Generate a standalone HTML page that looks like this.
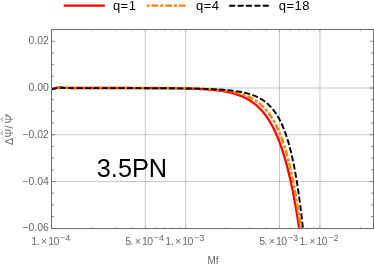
<!DOCTYPE html>
<html><head><meta charset="utf-8"><style>
html,body{margin:0;padding:0;background:#fff;}
body{width:374px;height:265px;overflow:hidden;}
svg{display:block;will-change:transform;}
text{font-family:"Liberation Sans",sans-serif;}
.t{font-size:10.5px;fill:#666;}
.s{font-size:9.1px;fill:#666;}
.l{font-size:13px;fill:#000;letter-spacing:0.5px;}
</style></head><body>
<svg width="374" height="265" viewBox="0 0 374 265">
<rect width="374" height="265" fill="#fff"/>
<g stroke="#000" stroke-opacity="0.22" stroke-width="1" fill="none"><line x1="145.29" y1="29.5" x2="145.29" y2="228.5"/><line x1="185.70" y1="29.5" x2="185.70" y2="228.5"/><line x1="279.54" y1="29.5" x2="279.54" y2="228.5"/><line x1="319.95" y1="29.5" x2="319.95" y2="228.5"/><line x1="51.5" y1="88.00" x2="373.5" y2="88.00"/><line x1="51.5" y1="134.74" x2="373.5" y2="134.74"/><line x1="51.5" y1="181.48" x2="373.5" y2="181.48"/></g>
<clipPath id="c"><rect x="51.5" y="29.5" width="322.0" height="199.0"/></clipPath>
<g clip-path="url(#c)" fill="none" stroke-linejoin="round">
<path d="M51.50 88.90 L52.00 88.89 L52.50 88.85 L53.00 88.81 L53.50 88.75 L54.00 88.66 L54.50 88.51 L55.00 88.35 L55.50 88.20 L56.00 88.06 L56.50 87.91 L57.00 87.78 L57.50 87.70 L58.00 87.65 L58.50 87.61 L59.00 87.58 L59.50 87.56 L60.00 87.55 L60.50 87.56 L61.00 87.58 L61.50 87.61 L62.00 87.64 L62.50 87.67 L63.00 87.70 L63.50 87.73 L64.00 87.75 L64.50 87.78 L65.00 87.81 L65.50 87.84 L66.00 87.86 L66.50 87.88 L67.00 87.90 L67.50 87.92 L68.00 87.93 L68.50 87.94 L69.00 87.96 L69.50 87.97 L70.00 87.98 L70.50 87.99 L71.00 88.00 L71.50 88.00 L72.00 88.00 L72.50 88.00 L73.00 88.00 L73.50 88.00 L74.00 88.00 L74.50 88.00 L75.00 88.00 L75.50 88.00 L76.00 88.00 L76.50 88.00 L77.00 88.00 L77.50 88.00 L78.00 88.00 L78.50 88.00 L79.00 88.00 L79.50 88.00 L80.00 88.00 L80.50 88.00 L81.00 88.00 L81.50 88.00 L82.00 88.00 L82.50 88.00 L83.00 88.00 L83.50 88.00 L84.00 88.00 L84.50 88.00 L85.00 88.00 L85.50 88.00 L86.00 88.00 L86.50 88.00 L87.00 88.00 L87.50 88.00 L88.00 88.00 L88.50 88.00 L89.00 88.00 L89.50 88.00 L90.00 88.00 L90.50 88.00 L91.00 88.00 L91.50 88.00 L92.00 88.00 L92.50 88.00 L93.00 88.00 L93.50 88.00 L94.00 88.00 L94.50 88.00 L95.00 88.00 L95.50 88.00 L96.00 88.00 L96.50 88.00 L97.00 88.00 L97.50 88.00 L98.00 88.00 L98.50 88.00 L99.00 88.00 L99.50 88.00 L100.00 88.00 L100.50 88.00 L101.00 88.00 L101.50 88.00 L102.00 88.00 L102.50 88.01 L103.00 88.01 L103.50 88.01 L104.00 88.01 L104.50 88.01 L105.00 88.01 L105.50 88.01 L106.00 88.01 L106.50 88.01 L107.00 88.01 L107.50 88.01 L108.00 88.01 L108.50 88.01 L109.00 88.01 L109.50 88.01 L110.00 88.01 L110.50 88.01 L111.00 88.01 L111.50 88.01 L112.00 88.01 L112.50 88.01 L113.00 88.01 L113.50 88.01 L114.00 88.01 L114.50 88.01 L115.00 88.01 L115.50 88.01 L116.00 88.01 L116.50 88.01 L117.00 88.01 L117.50 88.01 L118.00 88.01 L118.50 88.01 L119.00 88.01 L119.50 88.01 L120.00 88.01 L120.50 88.01 L121.00 88.01 L121.50 88.01 L122.00 88.02 L122.50 88.02 L123.00 88.02 L123.50 88.02 L124.00 88.02 L124.50 88.02 L125.00 88.02 L125.50 88.02 L126.00 88.02 L126.50 88.02 L127.00 88.02 L127.50 88.02 L128.00 88.02 L128.50 88.02 L129.00 88.02 L129.50 88.02 L130.00 88.02 L130.50 88.02 L131.00 88.02 L131.50 88.03 L132.00 88.03 L132.50 88.03 L133.00 88.03 L133.50 88.03 L134.00 88.03 L134.50 88.03 L135.00 88.03 L135.50 88.03 L136.00 88.03 L136.50 88.03 L137.00 88.03 L137.50 88.04 L138.00 88.04 L138.50 88.04 L139.00 88.04 L139.50 88.04 L140.00 88.04 L140.50 88.04 L141.00 88.04 L141.50 88.04 L142.00 88.05 L142.50 88.05 L143.00 88.05 L143.50 88.05 L144.00 88.05 L144.50 88.05 L145.00 88.05 L145.50 88.05 L146.00 88.06 L146.50 88.06 L147.00 88.06 L147.50 88.06 L148.00 88.06 L148.50 88.06 L149.00 88.07 L149.50 88.07 L150.00 88.07 L150.50 88.07 L151.00 88.07 L151.50 88.08 L152.00 88.08 L152.50 88.08 L153.00 88.08 L153.50 88.08 L154.00 88.09 L154.50 88.09 L155.00 88.09 L155.50 88.09 L156.00 88.10 L156.50 88.10 L157.00 88.10 L157.50 88.10 L158.00 88.11 L158.50 88.11 L159.00 88.11 L159.50 88.12 L160.00 88.12 L160.50 88.12 L161.00 88.13 L161.50 88.13 L162.00 88.13 L162.50 88.14 L163.00 88.14 L163.50 88.14 L164.00 88.15 L164.50 88.15 L165.00 88.16 L165.50 88.16 L166.00 88.16 L166.50 88.17 L167.00 88.17 L167.50 88.18 L168.00 88.18 L168.50 88.19 L169.00 88.19 L169.50 88.20 L170.00 88.20 L170.50 88.21 L171.00 88.21 L171.50 88.22 L172.00 88.23 L172.50 88.23 L173.00 88.24 L173.50 88.24 L174.00 88.25 L174.50 88.26 L175.00 88.26 L175.50 88.27 L176.00 88.28 L176.50 88.29 L177.00 88.29 L177.50 88.30 L178.00 88.31 L178.50 88.32 L179.00 88.33 L179.50 88.33 L180.00 88.34 L180.50 88.35 L181.00 88.36 L181.50 88.37 L182.00 88.38 L182.50 88.39 L183.00 88.40 L183.50 88.41 L184.00 88.42 L184.50 88.44 L185.00 88.45 L185.50 88.46 L186.00 88.47 L186.50 88.48 L187.00 88.50 L187.50 88.51 L188.00 88.52 L188.50 88.54 L189.00 88.55 L189.50 88.57 L190.00 88.58 L190.50 88.60 L191.00 88.61 L191.50 88.63 L192.00 88.65 L192.50 88.66 L193.00 88.68 L193.50 88.70 L194.00 88.72 L194.50 88.74 L195.00 88.75 L195.50 88.77 L196.00 88.80 L196.50 88.82 L197.00 88.84 L197.50 88.86 L198.00 88.88 L198.50 88.91 L199.00 88.93 L199.50 88.95 L200.00 88.98 L200.50 89.01 L201.00 89.03 L201.50 89.06 L202.00 89.09 L202.50 89.12 L203.00 89.14 L203.50 89.17 L204.00 89.21 L204.50 89.24 L205.00 89.27 L205.50 89.30 L206.00 89.34 L206.50 89.37 L207.00 89.41 L207.50 89.45 L208.00 89.48 L208.50 89.52 L209.00 89.56 L209.50 89.60 L210.00 89.64 L210.50 89.69 L211.00 89.73 L211.50 89.78 L212.00 89.82 L212.50 89.87 L213.00 89.92 L213.50 89.97 L214.00 90.02 L214.50 90.07 L215.00 90.13 L215.50 90.18 L216.00 90.24 L216.50 90.30 L217.00 90.36 L217.50 90.42 L218.00 90.48 L218.50 90.55 L219.00 90.61 L219.50 90.68 L220.00 90.75 L220.50 90.82 L221.00 90.89 L221.50 90.97 L222.00 91.05 L222.50 91.12 L223.00 91.21 L223.50 91.29 L224.00 91.37 L224.50 91.46 L225.00 91.55 L225.50 91.64 L226.00 91.74 L226.50 91.83 L227.00 91.93 L227.50 92.03 L228.00 92.14 L228.50 92.24 L229.00 92.35 L229.50 92.46 L230.00 92.58 L230.50 92.70 L231.00 92.82 L231.50 92.94 L232.00 93.07 L232.50 93.20 L233.00 93.33 L233.50 93.47 L234.00 93.61 L234.50 93.75 L235.00 93.90 L235.50 94.05 L236.00 94.21 L236.50 94.37 L237.00 94.53 L237.50 94.70 L238.00 94.87 L238.50 95.04 L239.00 95.23 L239.50 95.41 L240.00 95.60 L240.20 95.68 L240.40 95.75 L240.60 95.83 L240.80 95.91 L241.00 95.99 L241.20 96.07 L241.40 96.15 L241.60 96.24 L241.80 96.32 L242.00 96.41 L242.20 96.49 L242.40 96.58 L242.60 96.66 L242.80 96.75 L243.00 96.84 L243.20 96.93 L243.40 97.02 L243.60 97.11 L243.80 97.20 L244.00 97.30 L244.20 97.39 L244.40 97.48 L244.60 97.58 L244.80 97.68 L245.00 97.77 L245.20 97.87 L245.40 97.97 L245.60 98.07 L245.80 98.18 L246.00 98.28 L246.20 98.38 L246.40 98.49 L246.60 98.59 L246.80 98.70 L247.00 98.81 L247.20 98.92 L247.40 99.03 L247.60 99.14 L247.80 99.25 L248.00 99.36 L248.20 99.48 L248.40 99.59 L248.60 99.71 L248.80 99.83 L249.00 99.95 L249.20 100.07 L249.40 100.19 L249.60 100.31 L249.80 100.44 L250.00 100.56 L250.20 100.69 L250.40 100.81 L250.60 100.94 L250.80 101.07 L251.00 101.20 L251.20 101.34 L251.40 101.47 L251.60 101.61 L251.80 101.74 L252.00 101.88 L252.20 102.02 L252.40 102.16 L252.60 102.30 L252.80 102.45 L253.00 102.59 L253.20 102.74 L253.40 102.89 L253.60 103.04 L253.80 103.19 L254.00 103.34 L254.20 103.49 L254.40 103.65 L254.60 103.81 L254.80 103.96 L255.00 104.12 L255.20 104.29 L255.40 104.45 L255.60 104.61 L255.80 104.78 L256.00 104.95 L256.20 105.12 L256.40 105.29 L256.60 105.46 L256.80 105.64 L257.00 105.81 L257.20 105.99 L257.40 106.17 L257.60 106.35 L257.80 106.54 L258.00 106.72 L258.20 106.91 L258.40 107.10 L258.60 107.29 L258.80 107.48 L259.00 107.68 L259.20 107.88 L259.40 108.07 L259.60 108.27 L259.80 108.48 L260.00 108.68 L260.20 108.89 L260.40 109.10 L260.60 109.31 L260.80 109.52 L261.00 109.73 L261.20 109.95 L261.40 110.17 L261.60 110.39 L261.80 110.61 L262.00 110.84 L262.20 111.07 L262.40 111.30 L262.60 111.53 L262.80 111.76 L263.00 112.00 L263.20 112.24 L263.40 112.48 L263.60 112.72 L263.80 112.97 L264.00 113.22 L264.20 113.47 L264.40 113.72 L264.60 113.98 L264.80 114.24 L265.00 114.50 L265.20 114.76 L265.40 115.03 L265.60 115.30 L265.80 115.57 L266.00 115.84 L266.20 116.12 L266.40 116.40 L266.60 116.68 L266.80 116.97 L267.00 117.25 L267.20 117.54 L267.40 117.84 L267.60 118.13 L267.80 118.43 L268.00 118.73 L268.20 119.04 L268.40 119.35 L268.60 119.66 L268.80 119.97 L269.00 120.29 L269.20 120.61 L269.40 120.93 L269.60 121.26 L269.80 121.59 L270.00 121.92 L270.20 122.26 L270.40 122.60 L270.60 122.94 L270.80 123.29 L271.00 123.63 L271.20 123.99 L271.40 124.34 L271.60 124.70 L271.80 125.07 L272.00 125.43 L272.20 125.80 L272.40 126.18 L272.60 126.55 L272.80 126.94 L273.00 127.32 L273.20 127.71 L273.40 128.10 L273.60 128.50 L273.80 128.90 L274.00 129.30 L274.20 129.71 L274.40 130.12 L274.60 130.54 L274.80 130.96 L275.00 131.38 L275.20 131.81 L275.40 132.24 L275.60 132.68 L275.80 133.12 L276.00 133.56 L276.20 134.01 L276.40 134.47 L276.60 134.92 L276.80 135.39 L277.00 135.85 L277.20 136.32 L277.40 136.80 L277.60 137.28 L277.80 137.77 L278.00 138.26 L278.20 138.75 L278.40 139.25 L278.60 139.76 L278.80 140.26 L279.00 140.78 L279.20 141.30 L279.40 141.82 L279.60 142.35 L279.80 142.89 L280.00 143.42 L280.20 143.97 L280.40 144.52 L280.60 145.08 L280.80 145.64 L281.00 146.20 L281.20 146.77 L281.40 147.35 L281.60 147.93 L281.80 148.52 L282.00 149.12 L282.20 149.72 L282.40 150.32 L282.60 150.93 L282.80 151.55 L283.00 152.17 L283.20 152.80 L283.40 153.44 L283.60 154.08 L283.80 154.73 L284.00 155.38 L284.20 156.04 L284.40 156.71 L284.60 157.38 L284.80 158.06 L285.00 158.74 L285.20 159.44 L285.40 160.14 L285.60 160.84 L285.80 161.55 L286.00 162.27 L286.20 163.00 L286.40 163.73 L286.60 164.47 L286.80 165.22 L287.00 165.98 L287.20 166.74 L287.40 167.51 L287.60 168.29 L287.80 169.07 L288.00 169.86 L288.20 170.66 L288.40 171.47 L288.60 172.28 L288.80 173.11 L289.00 173.94 L289.20 174.78 L289.40 175.62 L289.60 176.48 L289.80 177.34 L290.00 178.21 L290.20 179.09 L290.40 179.98 L290.60 180.88 L290.80 181.78 L291.00 182.69 L291.20 183.62 L291.40 184.55 L291.60 185.49 L291.80 186.44 L292.00 187.40 L292.20 188.36 L292.40 189.34 L292.60 190.33 L292.80 191.32 L293.00 192.33 L293.20 193.34 L293.40 194.37 L293.60 195.40 L293.80 196.45 L294.00 197.50 L294.20 198.56 L294.40 199.64 L294.60 200.72 L294.80 201.82 L295.00 202.92 L295.20 204.04 L295.40 205.17 L295.60 206.30 L295.80 207.45 L296.00 208.61 L296.20 209.78 L296.40 210.96 L296.60 212.16 L296.80 213.36 L297.00 214.58 L297.20 215.80 L297.40 217.04 L297.60 218.29 L297.80 219.56 L298.00 220.83 L298.20 222.12 L298.40 223.42 L298.60 224.73 L298.80 226.05 L299.00 227.39 L299.20 228.74 L299.40 230.10 L299.60 231.48 L299.80 232.86 L300.00 234.27 L300.20 235.68 L300.40 237.11 L300.60 238.55 L300.80 240.01 L301.00 241.47 L301.20 242.96 L301.40 244.46" stroke="#ff0000" stroke-width="2.3"/>
<path d="M51.50 88.90 L52.00 88.89 L52.50 88.85 L53.00 88.81 L53.50 88.75 L54.00 88.66 L54.50 88.51 L55.00 88.35 L55.50 88.20 L56.00 88.06 L56.50 87.91 L57.00 87.78 L57.50 87.70 L58.00 87.65 L58.50 87.61 L59.00 87.58 L59.50 87.56 L60.00 87.55 L60.50 87.56 L61.00 87.58 L61.50 87.61 L62.00 87.64 L62.50 87.67 L63.00 87.70 L63.50 87.73 L64.00 87.75 L64.50 87.78 L65.00 87.81 L65.50 87.84 L66.00 87.86 L66.50 87.88 L67.00 87.90 L67.50 87.92 L68.00 87.93 L68.50 87.94 L69.00 87.96 L69.50 87.97 L70.00 87.98 L70.50 87.99 L71.00 88.00 L71.50 88.00 L72.00 88.00 L72.50 88.00 L73.00 88.00 L73.50 88.00 L74.00 88.00 L74.50 88.00 L75.00 88.00 L75.50 88.00 L76.00 88.00 L76.50 88.00 L77.00 88.00 L77.50 88.00 L78.00 88.00 L78.50 88.00 L79.00 88.00 L79.50 88.00 L80.00 88.00 L80.50 88.00 L81.00 88.00 L81.50 88.00 L82.00 88.00 L82.50 88.00 L83.00 88.00 L83.50 88.00 L84.00 88.00 L84.50 88.00 L85.00 88.00 L85.50 88.00 L86.00 88.00 L86.50 88.00 L87.00 88.00 L87.50 88.00 L88.00 88.00 L88.50 88.00 L89.00 88.00 L89.50 88.00 L90.00 88.00 L90.50 88.00 L91.00 88.00 L91.50 88.00 L92.00 88.00 L92.50 88.00 L93.00 88.00 L93.50 88.00 L94.00 88.00 L94.50 88.00 L95.00 88.00 L95.50 88.00 L96.00 88.00 L96.50 88.00 L97.00 88.00 L97.50 88.00 L98.00 88.00 L98.50 88.00 L99.00 88.00 L99.50 88.00 L100.00 88.00 L100.50 88.00 L101.00 88.00 L101.50 88.00 L102.00 88.00 L102.50 88.00 L103.00 88.00 L103.50 88.01 L104.00 88.01 L104.50 88.01 L105.00 88.01 L105.50 88.01 L106.00 88.01 L106.50 88.01 L107.00 88.01 L107.50 88.01 L108.00 88.01 L108.50 88.01 L109.00 88.01 L109.50 88.01 L110.00 88.01 L110.50 88.01 L111.00 88.01 L111.50 88.01 L112.00 88.01 L112.50 88.01 L113.00 88.01 L113.50 88.01 L114.00 88.01 L114.50 88.01 L115.00 88.01 L115.50 88.01 L116.00 88.01 L116.50 88.01 L117.00 88.01 L117.50 88.01 L118.00 88.01 L118.50 88.01 L119.00 88.01 L119.50 88.01 L120.00 88.01 L120.50 88.01 L121.00 88.01 L121.50 88.01 L122.00 88.01 L122.50 88.01 L123.00 88.01 L123.50 88.01 L124.00 88.01 L124.50 88.01 L125.00 88.01 L125.50 88.02 L126.00 88.02 L126.50 88.02 L127.00 88.02 L127.50 88.02 L128.00 88.02 L128.50 88.02 L129.00 88.02 L129.50 88.02 L130.00 88.02 L130.50 88.02 L131.00 88.02 L131.50 88.02 L132.00 88.02 L132.50 88.02 L133.00 88.02 L133.50 88.02 L134.00 88.02 L134.50 88.02 L135.00 88.02 L135.50 88.03 L136.00 88.03 L136.50 88.03 L137.00 88.03 L137.50 88.03 L138.00 88.03 L138.50 88.03 L139.00 88.03 L139.50 88.03 L140.00 88.03 L140.50 88.03 L141.00 88.03 L141.50 88.03 L142.00 88.04 L142.50 88.04 L143.00 88.04 L143.50 88.04 L144.00 88.04 L144.50 88.04 L145.00 88.04 L145.50 88.04 L146.00 88.04 L146.50 88.04 L147.00 88.05 L147.50 88.05 L148.00 88.05 L148.50 88.05 L149.00 88.05 L149.50 88.05 L150.00 88.05 L150.50 88.05 L151.00 88.06 L151.50 88.06 L152.00 88.06 L152.50 88.06 L153.00 88.06 L153.50 88.06 L154.00 88.06 L154.50 88.07 L155.00 88.07 L155.50 88.07 L156.00 88.07 L156.50 88.07 L157.00 88.07 L157.50 88.08 L158.00 88.08 L158.50 88.08 L159.00 88.08 L159.50 88.09 L160.00 88.09 L160.50 88.09 L161.00 88.09 L161.50 88.09 L162.00 88.10 L162.50 88.10 L163.00 88.10 L163.50 88.10 L164.00 88.11 L164.50 88.11 L165.00 88.11 L165.50 88.12 L166.00 88.12 L166.50 88.12 L167.00 88.12 L167.50 88.13 L168.00 88.13 L168.50 88.13 L169.00 88.14 L169.50 88.14 L170.00 88.15 L170.50 88.15 L171.00 88.15 L171.50 88.16 L172.00 88.16 L172.50 88.17 L173.00 88.17 L173.50 88.17 L174.00 88.18 L174.50 88.18 L175.00 88.19 L175.50 88.19 L176.00 88.20 L176.50 88.20 L177.00 88.21 L177.50 88.21 L178.00 88.22 L178.50 88.22 L179.00 88.23 L179.50 88.24 L180.00 88.24 L180.50 88.25 L181.00 88.26 L181.50 88.26 L182.00 88.27 L182.50 88.28 L183.00 88.28 L183.50 88.29 L184.00 88.30 L184.50 88.31 L185.00 88.31 L185.50 88.32 L186.00 88.33 L186.50 88.34 L187.00 88.35 L187.50 88.36 L188.00 88.37 L188.50 88.38 L189.00 88.39 L189.50 88.40 L190.00 88.41 L190.50 88.42 L191.00 88.43 L191.50 88.44 L192.00 88.45 L192.50 88.46 L193.00 88.47 L193.50 88.49 L194.00 88.50 L194.50 88.51 L195.00 88.53 L195.50 88.54 L196.00 88.55 L196.50 88.57 L197.00 88.58 L197.50 88.60 L198.00 88.61 L198.50 88.63 L199.00 88.65 L199.50 88.66 L200.00 88.68 L200.50 88.70 L201.00 88.72 L201.50 88.74 L202.00 88.76 L202.50 88.78 L203.00 88.80 L203.50 88.82 L204.00 88.84 L204.50 88.86 L205.00 88.88 L205.50 88.91 L206.00 88.93 L206.50 88.95 L207.00 88.98 L207.50 89.00 L208.00 89.03 L208.50 89.06 L209.00 89.09 L209.50 89.11 L210.00 89.14 L210.50 89.17 L211.00 89.21 L211.50 89.24 L212.00 89.27 L212.50 89.30 L213.00 89.34 L213.50 89.37 L214.00 89.41 L214.50 89.45 L215.00 89.48 L215.50 89.52 L216.00 89.56 L216.50 89.60 L217.00 89.65 L217.50 89.69 L218.00 89.74 L218.50 89.78 L219.00 89.83 L219.50 89.88 L220.00 89.93 L220.50 89.98 L221.00 90.03 L221.50 90.08 L222.00 90.14 L222.50 90.20 L223.00 90.25 L223.50 90.31 L224.00 90.37 L224.50 90.44 L225.00 90.50 L225.50 90.57 L226.00 90.64 L226.50 90.71 L227.00 90.78 L227.50 90.85 L228.00 90.93 L228.50 91.01 L229.00 91.09 L229.50 91.17 L230.00 91.25 L230.50 91.34 L231.00 91.43 L231.50 91.52 L232.00 91.61 L232.50 91.71 L233.00 91.81 L233.50 91.91 L234.00 92.01 L234.50 92.12 L235.00 92.23 L235.50 92.34 L236.00 92.46 L236.50 92.57 L237.00 92.70 L237.50 92.82 L238.00 92.95 L238.50 93.08 L239.00 93.22 L239.50 93.36 L240.00 93.50 L240.20 93.56 L240.40 93.62 L240.60 93.68 L240.80 93.74 L241.00 93.80 L241.20 93.86 L241.40 93.92 L241.60 93.98 L241.80 94.05 L242.00 94.11 L242.20 94.18 L242.40 94.24 L242.60 94.31 L242.80 94.37 L243.00 94.44 L243.20 94.51 L243.40 94.58 L243.60 94.65 L243.80 94.72 L244.00 94.79 L244.20 94.86 L244.40 94.94 L244.60 95.01 L244.80 95.08 L245.00 95.16 L245.20 95.23 L245.40 95.31 L245.60 95.39 L245.80 95.47 L246.00 95.55 L246.20 95.63 L246.40 95.71 L246.60 95.79 L246.80 95.87 L247.00 95.96 L247.20 96.04 L247.40 96.13 L247.60 96.21 L247.80 96.30 L248.00 96.39 L248.20 96.48 L248.40 96.57 L248.60 96.66 L248.80 96.75 L249.00 96.84 L249.20 96.94 L249.40 97.03 L249.60 97.13 L249.80 97.22 L250.00 97.32 L250.20 97.42 L250.40 97.52 L250.60 97.62 L250.80 97.72 L251.00 97.83 L251.20 97.93 L251.40 98.04 L251.60 98.15 L251.80 98.25 L252.00 98.36 L252.20 98.47 L252.40 98.58 L252.60 98.70 L252.80 98.81 L253.00 98.93 L253.20 99.04 L253.40 99.16 L253.60 99.28 L253.80 99.40 L254.00 99.52 L254.20 99.64 L254.40 99.77 L254.60 99.89 L254.80 100.02 L255.00 100.15 L255.20 100.28 L255.40 100.41 L255.60 100.54 L255.80 100.67 L256.00 100.81 L256.20 100.94 L256.40 101.08 L256.60 101.22 L256.80 101.36 L257.00 101.51 L257.20 101.65 L257.40 101.80 L257.60 101.94 L257.80 102.09 L258.00 102.24 L258.20 102.39 L258.40 102.55 L258.60 102.70 L258.80 102.86 L259.00 103.02 L259.20 103.18 L259.40 103.34 L259.60 103.50 L259.80 103.67 L260.00 103.84 L260.20 104.01 L260.40 104.18 L260.60 104.35 L260.80 104.52 L261.00 104.70 L261.20 104.88 L261.40 105.06 L261.60 105.24 L261.80 105.43 L262.00 105.61 L262.20 105.80 L262.40 105.99 L262.60 106.18 L262.80 106.38 L263.00 106.57 L263.20 106.77 L263.40 106.97 L263.60 107.18 L263.80 107.38 L264.00 107.59 L264.20 107.80 L264.40 108.01 L264.60 108.22 L264.80 108.44 L265.00 108.66 L265.20 108.88 L265.40 109.10 L265.60 109.33 L265.80 109.56 L266.00 109.79 L266.20 110.02 L266.40 110.26 L266.60 110.49 L266.80 110.74 L267.00 110.98 L267.20 111.22 L267.40 111.47 L267.60 111.72 L267.80 111.98 L268.00 112.24 L268.20 112.50 L268.40 112.76 L268.60 113.02 L268.80 113.29 L269.00 113.56 L269.20 113.84 L269.40 114.11 L269.60 114.39 L269.80 114.68 L270.00 114.96 L270.20 115.25 L270.40 115.54 L270.60 115.84 L270.80 116.14 L271.00 116.44 L271.20 116.74 L271.40 117.05 L271.60 117.36 L271.80 117.68 L272.00 118.00 L272.20 118.32 L272.40 118.64 L272.60 118.97 L272.80 119.31 L273.00 119.64 L273.20 119.98 L273.40 120.33 L273.60 120.67 L273.80 121.02 L274.00 121.38 L274.20 121.74 L274.40 122.10 L274.60 122.46 L274.80 122.84 L275.00 123.21 L275.20 123.59 L275.40 123.97 L275.60 124.36 L275.80 124.75 L276.00 125.14 L276.20 125.54 L276.40 125.94 L276.60 126.35 L276.80 126.77 L277.00 127.18 L277.20 127.60 L277.40 128.03 L277.60 128.46 L277.80 128.89 L278.00 129.33 L278.20 129.78 L278.40 130.23 L278.60 130.68 L278.80 131.14 L279.00 131.61 L279.20 132.08 L279.40 132.55 L279.60 133.03 L279.80 133.51 L280.00 134.00 L280.20 134.50 L280.40 135.00 L280.60 135.51 L280.80 136.02 L281.00 136.54 L281.20 137.06 L281.40 137.59 L281.60 138.12 L281.80 138.66 L282.00 139.21 L282.20 139.76 L282.40 140.32 L282.60 140.88 L282.80 141.45 L283.00 142.03 L283.20 142.61 L283.40 143.20 L283.60 143.79 L283.80 144.39 L284.00 145.00 L284.20 145.62 L284.40 146.24 L284.60 146.87 L284.80 147.50 L285.00 148.14 L285.20 148.79 L285.40 149.45 L285.60 150.11 L285.80 150.78 L286.00 151.46 L286.20 152.14 L286.40 152.83 L286.60 153.53 L286.80 154.24 L287.00 154.96 L287.20 155.68 L287.40 156.41 L287.60 157.15 L287.80 157.90 L288.00 158.65 L288.20 159.41 L288.40 160.19 L288.60 160.97 L288.80 161.75 L289.00 162.55 L289.20 163.36 L289.40 164.17 L289.60 164.99 L289.80 165.83 L290.00 166.67 L290.20 167.52 L290.40 168.38 L290.60 169.25 L290.80 170.13 L291.00 171.01 L291.20 171.91 L291.40 172.82 L291.60 173.74 L291.80 174.66 L292.00 175.60 L292.20 176.55 L292.40 177.51 L292.60 178.48 L292.80 179.46 L293.00 180.44 L293.20 181.45 L293.40 182.46 L293.60 183.48 L293.80 184.51 L294.00 185.56 L294.20 186.61 L294.40 187.68 L294.60 188.76 L294.80 189.85 L295.00 190.96 L295.20 192.07 L295.40 193.20 L295.60 194.34 L295.80 195.49 L296.00 196.66 L296.20 197.83 L296.40 199.02 L296.60 200.23 L296.80 201.44 L297.00 202.67 L297.20 203.92 L297.40 205.17 L297.60 206.44 L297.80 207.73 L298.00 209.03 L298.20 210.34 L298.40 211.67 L298.60 213.01 L298.80 214.36 L299.00 215.73 L299.20 217.12 L299.40 218.52 L299.60 219.94 L299.80 221.37 L300.00 222.82 L300.20 224.28 L300.40 225.76 L300.60 227.26 L300.80 228.77 L301.00 230.30 L301.20 231.84 L301.40 233.40 L301.60 234.98 L301.80 236.58 L302.00 238.19 L302.20 239.83 L302.40 241.47 L302.60 243.14 L302.80 244.83" stroke="#ff8000" stroke-width="2.5" stroke-dasharray="3.0 1.9 6.7 2.1"/>
<path d="M51.50 89.05 L52.00 89.03 L52.50 89.00 L53.00 88.95 L53.50 88.89 L54.00 88.80 L54.50 88.65 L55.00 88.49 L55.50 88.34 L56.00 88.20 L56.50 88.05 L57.00 87.92 L57.50 87.84 L58.00 87.79 L58.50 87.75 L59.00 87.71 L59.50 87.69 L60.00 87.68 L60.50 87.69 L61.00 87.71 L61.50 87.74 L62.00 87.77 L62.50 87.80 L63.00 87.83 L63.50 87.85 L64.00 87.88 L64.50 87.91 L65.00 87.94 L65.50 87.96 L66.00 87.99 L66.50 88.01 L67.00 88.02 L67.50 88.04 L68.00 88.05 L68.50 88.07 L69.00 88.08 L69.50 88.09 L70.00 88.10 L70.50 88.11 L71.00 88.12 L71.50 88.12 L72.00 88.12 L72.50 88.12 L73.00 88.12 L73.50 88.12 L74.00 88.12 L74.50 88.12 L75.00 88.12 L75.50 88.12 L76.00 88.12 L76.50 88.12 L77.00 88.12 L77.50 88.12 L78.00 88.12 L78.50 88.12 L79.00 88.12 L79.50 88.12 L80.00 88.12 L80.50 88.12 L81.00 88.11 L81.50 88.11 L82.00 88.11 L82.50 88.11 L83.00 88.11 L83.50 88.11 L84.00 88.11 L84.50 88.11 L85.00 88.11 L85.50 88.11 L86.00 88.11 L86.50 88.11 L87.00 88.11 L87.50 88.11 L88.00 88.11 L88.50 88.11 L89.00 88.11 L89.50 88.11 L90.00 88.11 L90.50 88.11 L91.00 88.11 L91.50 88.11 L92.00 88.11 L92.50 88.11 L93.00 88.11 L93.50 88.11 L94.00 88.11 L94.50 88.11 L95.00 88.11 L95.50 88.11 L96.00 88.11 L96.50 88.11 L97.00 88.11 L97.50 88.11 L98.00 88.11 L98.50 88.11 L99.00 88.11 L99.50 88.11 L100.00 88.11 L100.50 88.11 L101.00 88.11 L101.50 88.11 L102.00 88.11 L102.50 88.11 L103.00 88.11 L103.50 88.12 L104.00 88.12 L104.50 88.12 L105.00 88.12 L105.50 88.12 L106.00 88.12 L106.50 88.12 L107.00 88.12 L107.50 88.12 L108.00 88.12 L108.50 88.12 L109.00 88.12 L109.50 88.12 L110.00 88.12 L110.50 88.12 L111.00 88.12 L111.50 88.12 L112.00 88.12 L112.50 88.12 L113.00 88.12 L113.50 88.12 L114.00 88.12 L114.50 88.12 L115.00 88.12 L115.50 88.12 L116.00 88.12 L116.50 88.12 L117.00 88.12 L117.50 88.13 L118.00 88.13 L118.50 88.13 L119.00 88.13 L119.50 88.13 L120.00 88.13 L120.50 88.13 L121.00 88.13 L121.50 88.13 L122.00 88.13 L122.50 88.13 L123.00 88.13 L123.50 88.13 L124.00 88.13 L124.50 88.13 L125.00 88.13 L125.50 88.14 L126.00 88.14 L126.50 88.14 L127.00 88.14 L127.50 88.14 L128.00 88.14 L128.50 88.14 L129.00 88.14 L129.50 88.14 L130.00 88.14 L130.50 88.14 L131.00 88.14 L131.50 88.14 L132.00 88.15 L132.50 88.15 L133.00 88.15 L133.50 88.15 L134.00 88.15 L134.50 88.15 L135.00 88.15 L135.50 88.15 L136.00 88.15 L136.50 88.15 L137.00 88.16 L137.50 88.16 L138.00 88.16 L138.50 88.16 L139.00 88.16 L139.50 88.16 L140.00 88.16 L140.50 88.16 L141.00 88.17 L141.50 88.17 L142.00 88.17 L142.50 88.17 L143.00 88.17 L143.50 88.17 L144.00 88.17 L144.50 88.18 L145.00 88.18 L145.50 88.18 L146.00 88.18 L146.50 88.18 L147.00 88.18 L147.50 88.18 L148.00 88.19 L148.50 88.19 L149.00 88.19 L149.50 88.19 L150.00 88.19 L150.50 88.20 L151.00 88.20 L151.50 88.20 L152.00 88.20 L152.50 88.20 L153.00 88.20 L153.50 88.21 L154.00 88.21 L154.50 88.21 L155.00 88.21 L155.50 88.22 L156.00 88.22 L156.50 88.22 L157.00 88.22 L157.50 88.22 L158.00 88.23 L158.50 88.23 L159.00 88.23 L159.50 88.23 L160.00 88.24 L160.50 88.24 L161.00 88.24 L161.50 88.24 L162.00 88.25 L162.50 88.25 L163.00 88.25 L163.50 88.26 L164.00 88.26 L164.50 88.26 L165.00 88.27 L165.50 88.27 L166.00 88.27 L166.50 88.27 L167.00 88.28 L167.50 88.28 L168.00 88.28 L168.50 88.29 L169.00 88.29 L169.50 88.30 L170.00 88.30 L170.50 88.30 L171.00 88.31 L171.50 88.31 L172.00 88.31 L172.50 88.32 L173.00 88.32 L173.50 88.33 L174.00 88.33 L174.50 88.34 L175.00 88.34 L175.50 88.34 L176.00 88.35 L176.50 88.35 L177.00 88.36 L177.50 88.36 L178.00 88.37 L178.50 88.37 L179.00 88.38 L179.50 88.38 L180.00 88.39 L180.50 88.40 L181.00 88.40 L181.50 88.41 L182.00 88.41 L182.50 88.42 L183.00 88.43 L183.50 88.43 L184.00 88.44 L184.50 88.44 L185.00 88.45 L185.50 88.46 L186.00 88.46 L186.50 88.47 L187.00 88.48 L187.50 88.49 L188.00 88.49 L188.50 88.50 L189.00 88.51 L189.50 88.52 L190.00 88.53 L190.50 88.53 L191.00 88.54 L191.50 88.55 L192.00 88.56 L192.50 88.57 L193.00 88.58 L193.50 88.59 L194.00 88.60 L194.50 88.61 L195.00 88.62 L195.50 88.63 L196.00 88.64 L196.50 88.65 L197.00 88.66 L197.50 88.67 L198.00 88.68 L198.50 88.69 L199.00 88.71 L199.50 88.72 L200.00 88.73 L200.50 88.74 L201.00 88.76 L201.50 88.77 L202.00 88.78 L202.50 88.80 L203.00 88.81 L203.50 88.83 L204.00 88.84 L204.50 88.86 L205.00 88.87 L205.50 88.89 L206.00 88.91 L206.50 88.92 L207.00 88.94 L207.50 88.96 L208.00 88.97 L208.50 88.99 L209.00 89.01 L209.50 89.03 L210.00 89.05 L210.50 89.07 L211.00 89.09 L211.50 89.11 L212.00 89.13 L212.50 89.16 L213.00 89.18 L213.50 89.20 L214.00 89.22 L214.50 89.25 L215.00 89.27 L215.50 89.30 L216.00 89.33 L216.50 89.35 L217.00 89.38 L217.50 89.41 L218.00 89.44 L218.50 89.46 L219.00 89.49 L219.50 89.53 L220.00 89.56 L220.50 89.59 L221.00 89.62 L221.50 89.66 L222.00 89.69 L222.50 89.73 L223.00 89.76 L223.50 89.80 L224.00 89.84 L224.50 89.88 L225.00 89.92 L225.50 89.96 L226.00 90.00 L226.50 90.05 L227.00 90.09 L227.50 90.14 L228.00 90.18 L228.50 90.23 L229.00 90.28 L229.50 90.33 L230.00 90.38 L230.50 90.44 L231.00 90.49 L231.50 90.55 L232.00 90.61 L232.50 90.67 L233.00 90.73 L233.50 90.79 L234.00 90.85 L234.50 90.92 L235.00 90.99 L235.50 91.06 L236.00 91.13 L236.50 91.20 L237.00 91.27 L237.50 91.35 L238.00 91.43 L238.50 91.51 L239.00 91.60 L239.50 91.68 L240.00 91.77 L240.20 91.81 L240.40 91.84 L240.60 91.88 L240.80 91.92 L241.00 91.95 L241.20 91.99 L241.40 92.03 L241.60 92.07 L241.80 92.11 L242.00 92.15 L242.20 92.19 L242.40 92.23 L242.60 92.27 L242.80 92.31 L243.00 92.35 L243.20 92.39 L243.40 92.44 L243.60 92.48 L243.80 92.52 L244.00 92.57 L244.20 92.61 L244.40 92.66 L244.60 92.70 L244.80 92.75 L245.00 92.80 L245.20 92.84 L245.40 92.89 L245.60 92.94 L245.80 92.99 L246.00 93.04 L246.20 93.09 L246.40 93.14 L246.60 93.19 L246.80 93.24 L247.00 93.29 L247.20 93.35 L247.40 93.40 L247.60 93.45 L247.80 93.51 L248.00 93.56 L248.20 93.62 L248.40 93.68 L248.60 93.73 L248.80 93.79 L249.00 93.85 L249.20 93.91 L249.40 93.97 L249.60 94.03 L249.80 94.09 L250.00 94.15 L250.20 94.22 L250.40 94.28 L250.60 94.34 L250.80 94.41 L251.00 94.47 L251.20 94.54 L251.40 94.61 L251.60 94.67 L251.80 94.74 L252.00 94.81 L252.20 94.88 L252.40 94.95 L252.60 95.03 L252.80 95.10 L253.00 95.17 L253.20 95.25 L253.40 95.32 L253.60 95.40 L253.80 95.48 L254.00 95.55 L254.20 95.63 L254.40 95.71 L254.60 95.79 L254.80 95.87 L255.00 95.96 L255.20 96.04 L255.40 96.12 L255.60 96.21 L255.80 96.30 L256.00 96.38 L256.20 96.47 L256.40 96.56 L256.60 96.65 L256.80 96.75 L257.00 96.84 L257.20 96.93 L257.40 97.03 L257.60 97.12 L257.80 97.22 L258.00 97.32 L258.20 97.42 L258.40 97.52 L258.60 97.62 L258.80 97.73 L259.00 97.83 L259.20 97.94 L259.40 98.04 L259.60 98.15 L259.80 98.26 L260.00 98.37 L260.20 98.48 L260.40 98.60 L260.60 98.71 L260.80 98.83 L261.00 98.95 L261.20 99.07 L261.40 99.19 L261.60 99.31 L261.80 99.43 L262.00 99.56 L262.20 99.68 L262.40 99.81 L262.60 99.94 L262.80 100.07 L263.00 100.21 L263.20 100.34 L263.40 100.48 L263.60 100.61 L263.80 100.75 L264.00 100.89 L264.20 101.04 L264.40 101.18 L264.60 101.33 L264.80 101.48 L265.00 101.63 L265.20 101.78 L265.40 101.93 L265.60 102.09 L265.80 102.25 L266.00 102.41 L266.20 102.57 L266.40 102.73 L266.60 102.90 L266.80 103.06 L267.00 103.23 L267.20 103.41 L267.40 103.58 L267.60 103.76 L267.80 103.93 L268.00 104.11 L268.20 104.30 L268.40 104.48 L268.60 104.67 L268.80 104.86 L269.00 105.05 L269.20 105.25 L269.40 105.44 L269.60 105.64 L269.80 105.85 L270.00 106.05 L270.20 106.26 L270.40 106.47 L270.60 106.68 L270.80 106.89 L271.00 107.11 L271.20 107.33 L271.40 107.56 L271.60 107.78 L271.80 108.01 L272.00 108.24 L272.20 108.48 L272.40 108.72 L272.60 108.96 L272.80 109.20 L273.00 109.45 L273.20 109.70 L273.40 109.95 L273.60 110.21 L273.80 110.47 L274.00 110.73 L274.20 111.00 L274.40 111.27 L274.60 111.54 L274.80 111.82 L275.00 112.10 L275.20 112.38 L275.40 112.67 L275.60 112.96 L275.80 113.26 L276.00 113.56 L276.20 113.86 L276.40 114.17 L276.60 114.48 L276.80 114.79 L277.00 115.11 L277.20 115.44 L277.40 115.76 L277.60 116.10 L277.80 116.43 L278.00 116.77 L278.20 117.12 L278.40 117.47 L278.60 117.82 L278.80 118.18 L279.00 118.54 L279.20 118.91 L279.40 119.29 L279.60 119.66 L279.80 120.05 L280.00 120.43 L280.20 120.83 L280.40 121.23 L280.60 121.63 L280.80 122.04 L281.00 122.45 L281.20 122.87 L281.40 123.30 L281.60 123.73 L281.80 124.17 L282.00 124.61 L282.20 125.06 L282.40 125.51 L282.60 125.97 L282.80 126.44 L283.00 126.91 L283.20 127.39 L283.40 127.88 L283.60 128.37 L283.80 128.87 L284.00 129.37 L284.20 129.89 L284.40 130.40 L284.60 130.93 L284.80 131.46 L285.00 132.00 L285.20 132.55 L285.40 133.11 L285.60 133.67 L285.80 134.24 L286.00 134.82 L286.20 135.40 L286.40 136.00 L286.60 136.60 L286.80 137.21 L287.00 137.83 L287.20 138.45 L287.40 139.09 L287.60 139.73 L287.80 140.38 L288.00 141.05 L288.20 141.72 L288.40 142.40 L288.60 143.08 L288.80 143.78 L289.00 144.49 L289.20 145.21 L289.40 145.94 L289.60 146.67 L289.80 147.42 L290.00 148.18 L290.20 148.95 L290.40 149.73 L290.60 150.52 L290.80 151.32 L291.00 152.13 L291.20 152.95 L291.40 153.79 L291.60 154.63 L291.80 155.49 L292.00 156.36 L292.20 157.24 L292.40 158.14 L292.60 159.04 L292.80 159.96 L293.00 160.89 L293.20 161.84 L293.40 162.80 L293.60 163.77 L293.80 164.75 L294.00 165.75 L294.20 166.77 L294.40 167.79 L294.60 168.84 L294.80 169.89 L295.00 170.96 L295.20 172.05 L295.40 173.15 L295.60 174.27 L295.80 175.40 L296.00 176.55 L296.20 177.71 L296.40 178.90 L296.60 180.09 L296.80 181.31 L297.00 182.54 L297.20 183.79 L297.40 185.06 L297.60 186.35 L297.80 187.65 L298.00 188.97 L298.20 190.32 L298.40 191.68 L298.60 193.06 L298.80 194.46 L299.00 195.88 L299.20 197.32 L299.40 198.78 L299.60 200.26 L299.80 201.77 L300.00 203.29 L300.20 204.84 L300.40 206.41 L300.60 208.00 L300.80 209.61 L301.00 211.25 L301.20 212.91 L301.40 214.60 L301.60 216.31 L301.80 218.04 L302.00 219.80 L302.20 221.59 L302.40 223.40 L302.60 225.24 L302.80 227.10 L303.00 229.00 L303.20 230.92 L303.40 232.86 L303.60 234.84 L303.80 236.84 L304.00 238.88 L304.20 240.94 L304.40 243.03" stroke="#000" stroke-width="1.9" stroke-dasharray="6 2.4"/>
</g>
<rect x="51.5" y="29.5" width="322.0" height="199.0" fill="none" stroke="#6c6c6c" stroke-width="1"/>
<g stroke="#888" stroke-width="0.5" fill="none"><line x1="91.86" y1="228.5" x2="91.86" y2="226.6"/><line x1="91.86" y1="29.5" x2="91.86" y2="31.4"/><line x1="115.50" y1="228.5" x2="115.50" y2="226.6"/><line x1="115.50" y1="29.5" x2="115.50" y2="31.4"/><line x1="132.28" y1="228.5" x2="132.28" y2="226.6"/><line x1="132.28" y1="29.5" x2="132.28" y2="31.4"/><line x1="145.29" y1="228.5" x2="145.29" y2="225.5"/><line x1="145.29" y1="29.5" x2="145.29" y2="32.5"/><line x1="155.92" y1="228.5" x2="155.92" y2="226.6"/><line x1="155.92" y1="29.5" x2="155.92" y2="31.4"/><line x1="164.90" y1="228.5" x2="164.90" y2="226.6"/><line x1="164.90" y1="29.5" x2="164.90" y2="31.4"/><line x1="172.69" y1="228.5" x2="172.69" y2="226.6"/><line x1="172.69" y1="29.5" x2="172.69" y2="31.4"/><line x1="179.56" y1="228.5" x2="179.56" y2="226.6"/><line x1="179.56" y1="29.5" x2="179.56" y2="31.4"/><line x1="185.70" y1="228.5" x2="185.70" y2="225.5"/><line x1="185.70" y1="29.5" x2="185.70" y2="32.5"/><line x1="226.11" y1="228.5" x2="226.11" y2="226.6"/><line x1="226.11" y1="29.5" x2="226.11" y2="31.4"/><line x1="249.75" y1="228.5" x2="249.75" y2="226.6"/><line x1="249.75" y1="29.5" x2="249.75" y2="31.4"/><line x1="266.53" y1="228.5" x2="266.53" y2="226.6"/><line x1="266.53" y1="29.5" x2="266.53" y2="31.4"/><line x1="279.54" y1="228.5" x2="279.54" y2="225.5"/><line x1="279.54" y1="29.5" x2="279.54" y2="32.5"/><line x1="290.17" y1="228.5" x2="290.17" y2="226.6"/><line x1="290.17" y1="29.5" x2="290.17" y2="31.4"/><line x1="299.15" y1="228.5" x2="299.15" y2="226.6"/><line x1="299.15" y1="29.5" x2="299.15" y2="31.4"/><line x1="306.94" y1="228.5" x2="306.94" y2="226.6"/><line x1="306.94" y1="29.5" x2="306.94" y2="31.4"/><line x1="313.81" y1="228.5" x2="313.81" y2="226.6"/><line x1="313.81" y1="29.5" x2="313.81" y2="31.4"/><line x1="319.95" y1="228.5" x2="319.95" y2="225.5"/><line x1="319.95" y1="29.5" x2="319.95" y2="32.5"/><line x1="360.36" y1="228.5" x2="360.36" y2="226.6"/><line x1="360.36" y1="29.5" x2="360.36" y2="31.4"/></g>
<g stroke="#666" stroke-width="0.75" fill="none"><line x1="51.5" y1="216.53" x2="54.0" y2="216.53"/><line x1="373.5" y1="216.53" x2="371.0" y2="216.53"/><line x1="51.5" y1="204.85" x2="54.0" y2="204.85"/><line x1="373.5" y1="204.85" x2="371.0" y2="204.85"/><line x1="51.5" y1="193.16" x2="54.0" y2="193.16"/><line x1="373.5" y1="193.16" x2="371.0" y2="193.16"/><line x1="51.5" y1="181.48" x2="55.300000000000004" y2="181.48"/><line x1="373.5" y1="181.48" x2="369.7" y2="181.48"/><line x1="51.5" y1="169.80" x2="54.0" y2="169.80"/><line x1="373.5" y1="169.80" x2="371.0" y2="169.80"/><line x1="51.5" y1="158.11" x2="54.0" y2="158.11"/><line x1="373.5" y1="158.11" x2="371.0" y2="158.11"/><line x1="51.5" y1="146.43" x2="54.0" y2="146.43"/><line x1="373.5" y1="146.43" x2="371.0" y2="146.43"/><line x1="51.5" y1="134.74" x2="55.300000000000004" y2="134.74"/><line x1="373.5" y1="134.74" x2="369.7" y2="134.74"/><line x1="51.5" y1="123.06" x2="54.0" y2="123.06"/><line x1="373.5" y1="123.06" x2="371.0" y2="123.06"/><line x1="51.5" y1="111.37" x2="54.0" y2="111.37"/><line x1="373.5" y1="111.37" x2="371.0" y2="111.37"/><line x1="51.5" y1="99.69" x2="54.0" y2="99.69"/><line x1="373.5" y1="99.69" x2="371.0" y2="99.69"/><line x1="51.5" y1="88.00" x2="55.300000000000004" y2="88.00"/><line x1="373.5" y1="88.00" x2="369.7" y2="88.00"/><line x1="51.5" y1="76.31" x2="54.0" y2="76.31"/><line x1="373.5" y1="76.31" x2="371.0" y2="76.31"/><line x1="51.5" y1="64.63" x2="54.0" y2="64.63"/><line x1="373.5" y1="64.63" x2="371.0" y2="64.63"/><line x1="51.5" y1="52.95" x2="54.0" y2="52.95"/><line x1="373.5" y1="52.95" x2="371.0" y2="52.95"/><line x1="51.5" y1="41.26" x2="55.300000000000004" y2="41.26"/><line x1="373.5" y1="41.26" x2="369.7" y2="41.26"/></g>
<text x="48.9" y="44.36" class="t" text-anchor="end">0.02</text>
<text x="48.9" y="91.10" class="t" text-anchor="end">0.00</text>
<text x="48.9" y="137.84" class="t" text-anchor="end">−0.02</text>
<text x="48.9" y="184.58" class="t" text-anchor="end">−0.04</text>
<text x="48.9" y="231.32" class="t" text-anchor="end">−0.06</text>
<text x="31.30" y="244.8" class="t">1</text><text x="37.00" y="244.8" class="t">.</text><text x="41.00" y="244.8" class="t">×</text><text x="48.20" y="244.8" class="t" style="letter-spacing:-0.55px">10</text><text x="59.95" y="240.60000000000002" class="s">−4</text>
<text x="125.30" y="244.8" class="t">5</text><text x="130.20" y="244.8" class="t">.</text><text x="134.70" y="244.8" class="t">×</text><text x="141.90" y="244.8" class="t" style="letter-spacing:-0.55px">10</text><text x="153.65" y="241.10000000000002" class="s">−4</text>
<text x="165.30" y="244.8" class="t">1</text><text x="171.00" y="244.8" class="t">.</text><text x="175.00" y="244.8" class="t">×</text><text x="182.20" y="244.8" class="t" style="letter-spacing:-0.55px">10</text><text x="193.95" y="240.60000000000002" class="s">−3</text>
<text x="259.30" y="244.8" class="t">5</text><text x="264.20" y="244.8" class="t">.</text><text x="268.70" y="244.8" class="t">×</text><text x="275.90" y="244.8" class="t" style="letter-spacing:-0.55px">10</text><text x="287.65" y="240.60000000000002" class="s">−3</text>
<text x="299.60" y="244.8" class="t">1</text><text x="305.30" y="244.8" class="t">.</text><text x="309.30" y="244.8" class="t">×</text><text x="316.50" y="244.8" class="t" style="letter-spacing:-0.55px">10</text><text x="328.25" y="240.60000000000002" class="s">−2</text>
<text x="207.5" y="263.7" class="t" style="font-size:10px">Mf</text>
<g transform="translate(12.8,145) rotate(-90)"><text x="0" y="0" class="t">Δ</text><text x="7.6" y="0" class="t">Ψ</text><text x="16.4" y="0" class="t">/</text><text x="21.4" y="0" class="t">Ψ</text><path d="M10.2 -10.1 L11.9 -11.7 L13.6 -10.1 M24.1 -10.1 L25.8 -11.7 L27.5 -10.1 M30.4 -7.4 L30.2 -4.9" stroke="#666" stroke-width="0.8" fill="none"/></g>
<text x="96.8" y="177.4" style="font-size:25.3px;fill:#000">3.5PN</text>
<line x1="63.7" y1="5.6" x2="104.9" y2="5.6" stroke="#ff0000" stroke-width="2.3"/>
<text x="112.9" y="10.2" class="l">q=1</text>
<line x1="146.6" y1="5.7" x2="185.6" y2="5.7" stroke="#ff8000" stroke-width="2.2" stroke-dasharray="3.0 1.9 6.7 2.1"/>
<text x="196.0" y="10.2" class="l">q=4</text>
<line x1="229.2" y1="5.65" x2="268.9" y2="5.65" stroke="#000" stroke-width="2.0" stroke-dasharray="6 2.4"/>
<text x="278.8" y="10.2" class="l">q=18</text>
</svg></body></html>
